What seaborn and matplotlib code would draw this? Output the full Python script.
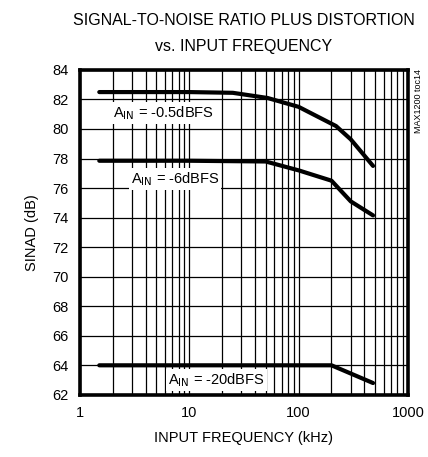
import numpy as np
import pandas as pd
import matplotlib
matplotlib.use("Agg")
import matplotlib.pyplot as plt
import seaborn as sns

# ── data ─────────────────────────────────────────────────
freq_05 = [1.5, 10, 25, 52, 100, 220, 300, 480]
sinad_05 = [82.5, 82.5, 82.45, 82.1, 81.5, 80.2, 79.3, 77.5]

freq_6 = [1.5, 10, 50, 100, 200, 300, 480]
sinad_6 = [77.85, 77.85, 77.8, 77.2, 76.5, 75.1, 74.15]

freq_20 = [1.5, 10, 100, 200, 480]
sinad_20 = [64.0, 64.0, 64.0, 64.0, 62.8]

labels = ["-0.5dBFS", "-6dBFS", "-20dBFS"]
yticks = list(range(62, 85, 2))
xticks = [1, 10, 100, 1000]

df = pd.concat([
    pd.DataFrame({"f": freq_05, "s": sinad_05, "amp": labels[0]}),
    pd.DataFrame({"f": freq_6, "s": sinad_6, "amp": labels[1]}),
    pd.DataFrame({"f": freq_20, "s": sinad_20, "amp": labels[2]}),
])

sns.set_style("white")
plt.rcParams["font.family"] = ["Liberation Sans Narrow", "Liberation Sans", "DejaVu Sans"]
plt.rcParams.update({
    "text.color": "black",
    "axes.labelcolor": "black",
    "xtick.color": "black",
    "ytick.color": "black",
})

fig = plt.figure(figsize=(4.28, 4.57), dpi=100)
ax = fig.add_axes([0.187, 0.136, 0.766, 0.711])

sns.lineplot(data=df, x="f", y="s", units="amp", estimator=None, sort=False,
             color="black", linewidth=3.0, ax=ax, zorder=3)

ax.set_xscale("log")
ax.set_xlim(1, 1000)
ax.set_ylim(62, 84)
ax.set_xticks(xticks)
ax.set_xticklabels([str(v) for v in xticks])
ax.set_yticks(yticks)
ax.xaxis.set_minor_locator(matplotlib.ticker.LogLocator(base=10, subs=np.arange(2, 10)))
ax.xaxis.set_minor_formatter(matplotlib.ticker.NullFormatter())
ax.grid(True, which="both", color="black", linewidth=0.9)
ax.tick_params(axis="both", which="both", length=0, labelsize=10.5, pad=8)
for sp in ax.spines.values():
    sp.set_visible(True)
    sp.set_linewidth(2.6)
    sp.set_color("black")

ax.set_xlabel("INPUT FREQUENCY (kHz)", fontsize=10.5, labelpad=8)
ax.set_ylabel("SINAD (dB)", fontsize=10.5, labelpad=10)

fig.text(0.57, 0.955, "SIGNAL-TO-NOISE RATIO PLUS DISTORTION", ha="center",
         va="center", fontsize=11.5)
fig.text(0.57, 0.898, "vs. INPUT FREQUENCY", ha="center", va="center", fontsize=11.5)
fig.text(0.978, 0.85, "MAX1200 toc14", rotation=90, ha="center", va="top", fontsize=6.5)

box = dict(facecolor="white", edgecolor="none", pad=1.5)
ax.text(2.0, 81.1, "A$_{\\mathrm{IN}}$ = " + labels[0], fontsize=10.5, va="center", bbox=box, zorder=4)
ax.text(2.9, 76.6, "A$_{\\mathrm{IN}}$ = " + labels[1], fontsize=10.5, va="center", bbox=box, zorder=4)
ax.text(6.4, 63.0, "A$_{\\mathrm{IN}}$ = " + labels[2], fontsize=10.5, va="center", bbox=box, zorder=4)

fig.savefig("out.png", dpi=100)
